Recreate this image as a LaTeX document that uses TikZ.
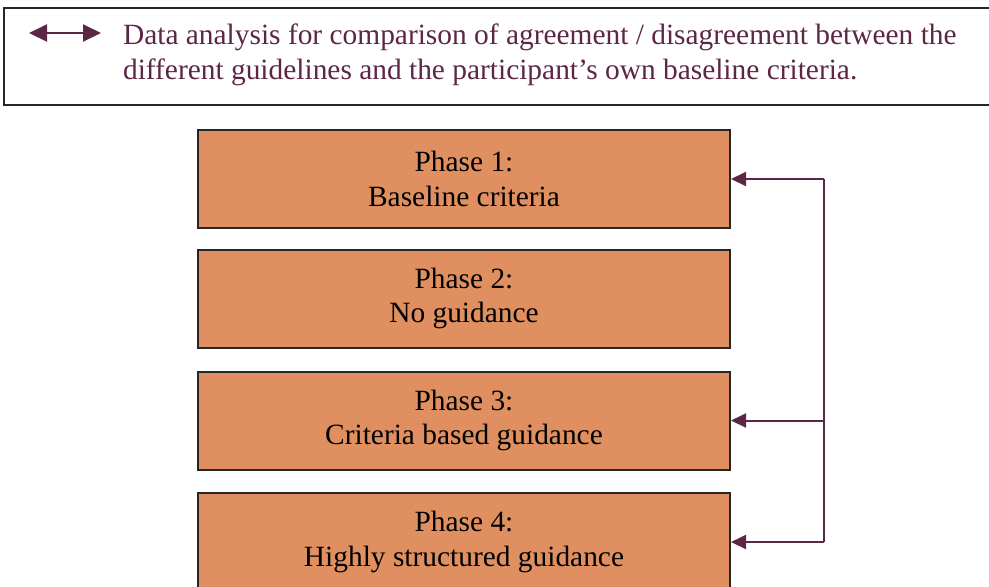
\documentclass[tikz,border=0pt]{standalone}
\usepackage{fontspec}
\setmainfont{Liberation Serif}
\usetikzlibrary{arrows.meta,positioning}
\definecolor{phasefill}{RGB}{224,144,96}
\definecolor{linkcol}{RGB}{92,38,70}
\begin{document}
\begin{tikzpicture}[x=0.5pt, y=-0.5pt, >={Triangle[length=7.5pt,width=7pt]},
	every node/.style={font=\fontsize{14.7}{17.2}\selectfont},
	phasebox/.style={draw=black!85, line width=1pt, fill=phasefill, minimum width=266pt, minimum height=49pt, align=center, inner sep=0pt},
	link/.style={draw=linkcol, line width=1pt}]
	% 1. 画布范围
	\useasboundingbox (0,0) rectangle (989,586);
	\clip (0,0) rectangle (989,586);
	
	% 2. 图例框
	\draw[black!85, line width=1pt] (4,8) rectangle (995,105);
	\coordinate (legl) at (29,33);
	\coordinate (legr) at (101,33);
	\draw[link, <->, >={Triangle[length=9pt,width=8.5pt]}] (legl) -- (legr);
	\node[anchor=west, align=left, text=linkcol, font=\fontsize{14.7}{17.5}\selectfont] (legtext) at (116,55)
		{Data analysis for comparison of agreement / disagreement between the\\different guidelines and the participant’s own baseline criteria.};
	
	% 3. 四个阶段
	\node[phasebox] (phaseone) at (464,179) {Phase 1:\\Baseline criteria};
	\node[phasebox] (phasetwo) at (464,298.5) {Phase 2:\\No guidance};
	\node[phasebox] (phasethree) at (464,420.5) {Phase 3:\\Criteria based guidance};
	\node[phasebox] (phasefour) at (464,542) {Phase 4:\\Highly structured guidance};
	
	% 4. 右侧回路箭头
	\coordinate (bustop) at (824,179);
	\coordinate (busbot) at (824,542);
	\draw[link] (bustop) -- (busbot);
	\draw[link, ->] (bustop) -- (phaseone.east);
	\draw[link, ->] (phasethree.east -| bustop) -- (phasethree.east);
	\draw[link, ->] (busbot) -- (phasefour.east);
\end{tikzpicture}
\end{document}
